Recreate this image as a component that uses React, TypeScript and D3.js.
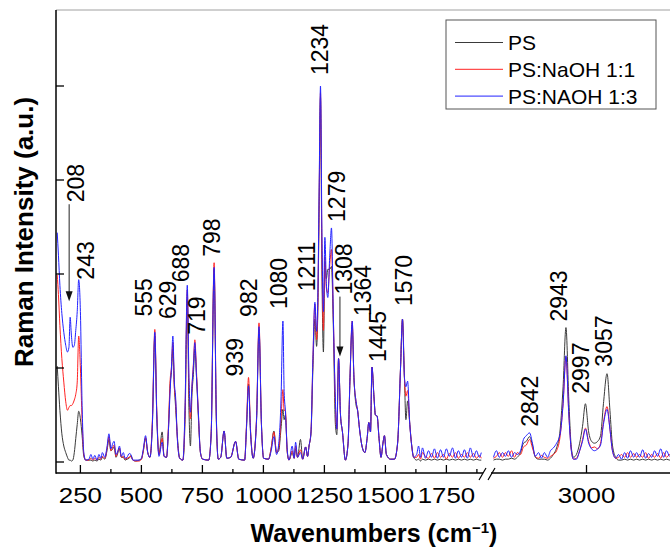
import React from "react";
import * as d3 from "d3";

// ---- Raman spectra, low wavenumber window (cm^-1) ----
const lowWavenumbers = [
  155, 160, 166, 174, 182, 190, 197, 203, 208, 213,
  219, 225, 231, 237, 243, 250, 257, 264, 272, 285,
  293, 301, 309, 318, 326, 334, 340, 350, 359, 367,
  375, 383, 388, 396, 404, 410, 418, 426, 433, 441,
  450, 457, 465, 477, 490, 500, 508, 517, 526, 535,
  545, 555, 563, 572, 585, 593, 603, 611, 618, 623,
  629, 635, 640, 648, 657, 670, 679, 688, 695, 701,
  707, 713, 719, 726, 733, 742, 751, 776, 786, 798,
  807, 815, 825, 839, 850, 866, 886, 899, 923, 931,
  939, 947, 958, 972, 982, 992, 1001, 1021, 1032, 1043,
  1054, 1063, 1072, 1080, 1085, 1090, 1098, 1105, 1118, 1126,
  1132, 1140, 1152, 1161, 1173, 1181, 1187, 1195, 1203, 1211,
  1218, 1223, 1228, 1234, 1240, 1246, 1252, 1258, 1264, 1272,
  1279, 1287, 1295, 1301, 1308, 1316, 1324, 1336, 1347, 1355,
  1364, 1371, 1380, 1386, 1394, 1404, 1416, 1425, 1432, 1439,
  1445, 1453, 1459, 1466, 1474, 1482, 1490, 1496, 1504, 1521,
  1537, 1550, 1562, 1570, 1578, 1584, 1591, 1600, 1608, 1616,
  1628, 1636, 1644, 1652, 1664, 1677, 1689, 1701, 1713, 1726,
  1738, 1750, 1762, 1775, 1787, 1799, 1812, 1824, 1836, 1848,
  1861, 1873, 1885, 1893,
];

const lowPS = [
  1.02, 0.80, 0.55, 0.30, 0.17, 0.10, 0.05, 0.02, 0.02, 0.01,
  0.02, 0.10, 0.25, 0.40, 0.54, 0.46, 0.28, 0.06, 0.02, 0.02,
  0.02, 0.01, 0.02, 0.01, 0.03, 0.02, 0.05, 0.03, 0.12, 0.24,
  0.12, 0.14, 0.16, 0.05, 0.10, 0.14, 0.05, 0.05, 0.02, 0.03,
  0.04, 0.07, 0.02, 0.01, 0.02, 0.03, 0.12, 0.25, 0.10, 0.05,
  0.40, 1.34, 0.50, 0.08, 0.32, 0.06, 0.05, 0.35, 0.83, 0.95,
  1.20, 0.80, 0.59, 0.25, 0.04, 0.02, 0.45, 1.73, 0.55, 0.17,
  0.70, 0.93, 1.20, 0.90, 0.50, 0.10, 0.03, 0.02, 0.30, 2.05,
  0.45, 0.03, 0.05, 0.33, 0.04, 0.05, 0.22, 0.03, 0.02, 0.38,
  0.83, 0.33, 0.04, 0.45, 1.41, 0.40, 0.04, 0.03, 0.15, 0.33,
  0.10, 0.12, 0.35, 0.56, 0.45, 0.50, 0.10, 0.02, 0.10, 0.04,
  0.14, 0.05, 0.24, 0.03, 0.16, 0.06, 0.17, 0.30, 1.00, 1.52,
  1.23, 1.60, 2.60, 3.88, 2.00, 1.17, 2.13, 1.95, 2.05, 2.05,
  2.08, 1.40, 0.40, 0.29, 1.10, 0.50, 0.32, 0.02, 0.20, 0.90,
  1.46, 0.90, 0.60, 0.55, 0.35, 0.17, 0.10, 0.25, 0.42, 0.32,
  1.01, 0.70, 0.50, 0.49, 0.25, 0.05, 0.20, 0.28, 0.08, 0.03,
  0.03, 0.20, 1.00, 1.52, 0.90, 0.45, 0.65, 0.40, 0.17, 0.05,
  0.02, 0.03, 0.01, 0.03, 0.02, 0.03, 0.02, 0.03, 0.02, 0.03,
  0.02, 0.03, 0.02, 0.03, 0.02, 0.03, 0.02, 0.03, 0.02, 0.03,
  0.02, 0.03, 0.02, 0.02,
];

const lowNaOH11 = [
  1.99, 1.78, 1.45, 1.10, 0.85, 0.64, 0.55, 0.58, 0.60, 0.60,
  0.62, 0.66, 0.72, 0.85, 1.34, 1.00, 0.45, 0.08, 0.02, 0.02,
  0.04, 0.02, 0.04, 0.02, 0.05, 0.03, 0.06, 0.04, 0.14, 0.27,
  0.12, 0.16, 0.18, 0.06, 0.12, 0.15, 0.05, 0.06, 0.03, 0.04,
  0.05, 0.06, 0.02, 0.01, 0.01, 0.03, 0.12, 0.26, 0.10, 0.05,
  0.45, 1.41, 0.55, 0.08, 0.25, 0.06, 0.05, 0.40, 0.88, 1.00,
  1.27, 0.80, 0.66, 0.22, 0.04, 0.02, 0.55, 1.83, 0.80, 0.46,
  0.80, 1.04, 1.30, 0.95, 0.55, 0.10, 0.03, 0.02, 0.32, 2.12,
  0.50, 0.03, 0.05, 0.33, 0.04, 0.05, 0.22, 0.03, 0.02, 0.42,
  0.90, 0.36, 0.04, 0.48, 1.48, 0.40, 0.04, 0.03, 0.15, 0.32,
  0.10, 0.15, 0.45, 0.77, 0.55, 0.55, 0.10, 0.02, 0.12, 0.04,
  0.17, 0.05, 0.13, 0.03, 0.16, 0.06, 0.17, 0.32, 1.10, 1.68,
  1.30, 1.65, 2.70, 3.93, 2.20, 1.40, 2.18, 1.85, 1.80, 2.10,
  2.26, 1.50, 0.60, 0.35, 1.10, 0.50, 0.32, 0.02, 0.20, 0.90,
  1.50, 0.90, 0.64, 0.55, 0.35, 0.17, 0.10, 0.25, 0.42, 0.32,
  1.01, 0.70, 0.50, 0.49, 0.25, 0.05, 0.20, 0.28, 0.08, 0.03,
  0.03, 0.20, 1.00, 1.52, 0.90, 0.70, 0.76, 0.40, 0.17, 0.05,
  0.05, 0.08, 0.03, 0.10, 0.06, 0.04, 0.09, 0.04, 0.10, 0.05,
  0.08, 0.03, 0.09, 0.05, 0.10, 0.04, 0.08, 0.05, 0.10, 0.05,
  0.09, 0.04, 0.07, 0.04,
];

const lowNaOH13 = [
  2.44, 2.20, 1.88, 1.58, 1.38, 1.24, 1.17, 1.22, 1.54, 1.35,
  1.22, 1.24, 1.40, 1.60, 1.94, 1.60, 0.60, 0.10, 0.02, 0.03,
  0.08, 0.03, 0.07, 0.02, 0.08, 0.04, 0.10, 0.05, 0.16, 0.30,
  0.14, 0.20, 0.22, 0.08, 0.12, 0.17, 0.06, 0.10, 0.04, 0.05,
  0.09, 0.08, 0.02, 0.02, 0.02, 0.04, 0.14, 0.28, 0.10, 0.05,
  0.40, 1.38, 0.50, 0.06, 0.21, 0.06, 0.05, 0.35, 0.77, 1.00,
  1.34, 0.85, 0.70, 0.22, 0.04, 0.02, 0.60, 1.88, 0.90, 0.53,
  0.80, 1.01, 1.27, 0.90, 0.55, 0.10, 0.03, 0.02, 0.30, 2.07,
  0.50, 0.03, 0.05, 0.33, 0.04, 0.05, 0.22, 0.03, 0.02, 0.38,
  0.81, 0.33, 0.04, 0.45, 1.44, 0.40, 0.04, 0.03, 0.12, 0.27,
  0.08, 0.20, 0.65, 1.50, 0.75, 0.55, 0.12, 0.02, 0.17, 0.04,
  0.21, 0.05, 0.10, 0.03, 0.16, 0.06, 0.17, 0.32, 1.10, 1.70,
  1.39, 1.75, 2.80, 4.00, 2.40, 1.60, 2.39, 1.90, 1.75, 2.20,
  2.49, 1.50, 0.67, 0.35, 1.10, 0.50, 0.32, 0.02, 0.20, 0.90,
  1.50, 0.90, 0.64, 0.55, 0.35, 0.17, 0.10, 0.25, 0.42, 0.32,
  1.01, 0.70, 0.50, 0.49, 0.25, 0.05, 0.20, 0.28, 0.08, 0.03,
  0.03, 0.20, 1.00, 1.52, 0.90, 0.80, 0.86, 0.40, 0.17, 0.05,
  0.08, 0.17, 0.05, 0.15, 0.04, 0.12, 0.05, 0.14, 0.04, 0.13,
  0.05, 0.14, 0.06, 0.15, 0.04, 0.12, 0.05, 0.13, 0.04, 0.15,
  0.05, 0.12, 0.05, 0.10,
];

// ---- C–H stretching window (cm^-1) ----
const highWavenumbers = [
  2742, 2750, 2758, 2767, 2775, 2783, 2792, 2800, 2808, 2817,
  2825, 2833, 2842, 2850, 2858, 2867, 2875, 2883, 2892, 2900,
  2908, 2917, 2927, 2935, 2943, 2951, 2958, 2964, 2972, 2981,
  2989, 2997, 3006, 3014, 3022, 3031, 3039, 3047, 3057, 3065,
  3072, 3081, 3089, 3097, 3106, 3114, 3122, 3131, 3139, 3147,
  3156, 3164, 3172, 3181, 3189, 3197, 3206, 3214, 3222, 3231,
  3240,
];

const highPS = [
  0.02, 0.03, 0.03, 0.02, 0.03, 0.03, 0.04, 0.03, 0.05, 0.10,
  0.20, 0.22, 0.27, 0.18, 0.05, 0.03, 0.03, 0.03, 0.02, 0.04,
  0.08, 0.15, 0.35, 0.80, 1.43, 0.65, 0.15, 0.05, 0.08, 0.20,
  0.38, 0.62, 0.32, 0.22, 0.20, 0.22, 0.28, 0.62, 0.94, 0.55,
  0.18, 0.05, 0.02, 0.02, 0.03, 0.02, 0.03, 0.02, 0.03, 0.02,
  0.03, 0.02, 0.03, 0.02, 0.03, 0.02, 0.03, 0.02, 0.03, 0.02,
  0.03,
];

const highNaOH11 = [
  0.04, 0.06, 0.10, 0.05, 0.10, 0.06, 0.12, 0.05, 0.10, 0.08,
  0.16, 0.18, 0.24, 0.15, 0.06, 0.04, 0.07, 0.05, 0.04, 0.06,
  0.08, 0.12, 0.28, 0.62, 1.12, 0.50, 0.12, 0.03, 0.04, 0.12,
  0.24, 0.36, 0.22, 0.15, 0.16, 0.14, 0.20, 0.42, 0.59, 0.35,
  0.12, 0.04, 0.05, 0.08, 0.05, 0.10, 0.05, 0.09, 0.05, 0.08,
  0.05, 0.10, 0.04, 0.08, 0.05, 0.09, 0.04, 0.10, 0.05, 0.08,
  0.05,
];

const highNaOH13 = [
  0.05, 0.12, 0.05, 0.10, 0.06, 0.12, 0.05, 0.10, 0.08, 0.12,
  0.24, 0.28, 0.31, 0.20, 0.06, 0.10, 0.04, 0.10, 0.05, 0.12,
  0.15, 0.20, 0.30, 0.62, 1.13, 0.50, 0.12, 0.03, 0.03, 0.12,
  0.22, 0.35, 0.20, 0.14, 0.12, 0.14, 0.18, 0.40, 0.56, 0.35,
  0.12, 0.04, 0.08, 0.03, 0.10, 0.04, 0.12, 0.05, 0.10, 0.05,
  0.13, 0.04, 0.09, 0.05, 0.12, 0.06, 0.14, 0.05, 0.12, 0.06,
  0.10,
];

const seriesNames = ["PS", "PS:NaOH 1:1", "PS:NAOH 1:3"];
const seriesColors = ["#3a3a3a", "#ff2222", "#2222ff"];

const lowTickLabels = [250, 500, 750, 1000, 1250, 1500, 1750];
const lowMinorTicks = [375, 625, 875, 1125, 1375, 1625, 1875];
const highTickLabels = [3000];
const yTicks = [0, 1, 2, 3, 4];

// Assigned band positions
const peakLabels = [243, 555, 629, 688, 719, 798, 939, 982, 1080, 1211, 1234, 1279, 1364, 1445, 1570, 2842, 2943, 2997, 3057];
const arrowPeaks = [208, 1308];

// Label placement: [horizontal shift px, gap above band top px]
const labelNudge: Record<number, [number, number]> = {
  243: [7, 0], 555: [-10.5, 13], 629: [-5, 17], 688: [-6.5, 3], 719: [2, 5],
  798: [-2.5, 6], 939: [-14, 1], 982: [-10, 6], 1080: [-4, 12], 1211: [-8, 11],
  1234: [-1, 11], 1279: [5, 6], 1364: [11, 5], 1445: [5.5, 5], 1570: [1, 13],
  2842: [0, 6], 2943: [-7.5, 6], 2997: [-4, 10], 3057: [-3.5, 7],
};
// Arrow placement: [arrow shift px, label shift px, tip gap px, arrow length px]
const arrowNudge: Record<number, [number, number, number, number]> = {
  208: [-1, 6, 16, 97],
  1308: [1.4, 5.5, 2, 60],
};

const W = 670;
const H = 549;
const frame = { left: 56, top: 10, bottom: 473, breakLeft: 483, breakRight: 491, right: 673 };
const FONT = "'Liberation Sans', Arial, Helvetica, sans-serif";

const xLow = d3.scaleLinear().domain([150, 1900]).range([frame.left, frame.breakLeft]);
const xHigh = d3.scaleLinear().domain([2735, 3240]).range([frame.breakRight, frame.right]);
const y = d3.scaleLinear().domain([0, 4]).range([462, 86]);

const xAt = (wn: number) => (wn <= 1900 ? xLow(wn) : xHigh(wn));

const lowSeries = [lowPS, lowNaOH11, lowNaOH13];
const highSeries = [highPS, highNaOH11, highNaOH13];

function bandTop(wn: number): number {
  const inLow = wn <= 1900;
  const grid = inLow ? lowWavenumbers : highWavenumbers;
  const sets = inLow ? lowSeries : highSeries;
  const i = grid.indexOf(wn);
  return d3.max(sets, (s) => s[i]) ?? 0;
}

function linePath(grid: number[], vals: number[], xs: d3.ScaleLinear<number, number>) {
  const gen = d3
    .line<number>()
    .x((_, i) => xs(grid[i]))
    .y((v) => y(v))
    .curve(d3.curveMonotoneX);
  return gen(vals) ?? "";
}

export default function App() {
  return (
    <svg
      width={W}
      height={H}
      viewBox={`0 0 ${W} ${H}`}
      style={{ position: "absolute", left: 0, top: 0, background: "#fff" }}
      fontFamily={FONT}
    >
      <rect x={0} y={0} width={W} height={H} fill="#fff" />
      <defs>
        <clipPath id="clipLow">
          <rect x={frame.left} y={frame.top} width={frame.breakLeft - frame.left} height={frame.bottom - frame.top} />
        </clipPath>
        <clipPath id="clipHigh">
          <rect x={frame.breakRight} y={frame.top} width={frame.right - frame.breakRight} height={frame.bottom - frame.top} />
        </clipPath>
      </defs>

      {/* spectra */}
      <g clipPath="url(#clipLow)" fill="none" strokeWidth={1} strokeLinejoin="round">
        {lowSeries.map((s, k) => (
          <path key={k} d={linePath(lowWavenumbers, s, xLow)} stroke={seriesColors[k]} />
        ))}
      </g>
      <g clipPath="url(#clipHigh)" fill="none" strokeWidth={1} strokeLinejoin="round">
        {highSeries.map((s, k) => (
          <path key={k} d={linePath(highWavenumbers, s, xHigh)} stroke={seriesColors[k]} />
        ))}
      </g>

      {/* frame */}
      <line x1={frame.left} x2={W} y1={frame.top} y2={frame.top} stroke="#a0a0a0" strokeWidth={1} />
      <line x1={frame.left} x2={frame.left} y1={frame.top} y2={frame.bottom + 0.75} stroke="#000" strokeWidth={1.5} />
      <line x1={frame.left} x2={frame.breakLeft} y1={frame.bottom} y2={frame.bottom} stroke="#000" strokeWidth={1.5} />
      <line x1={frame.breakRight} x2={W} y1={frame.bottom} y2={frame.bottom} stroke="#000" strokeWidth={1.5} />
      {/* axis break marks */}
      <line x1={frame.breakLeft - 4} y1={frame.bottom + 7} x2={frame.breakLeft + 3} y2={frame.bottom - 5} stroke="#000" strokeWidth={1.2} />
      <line x1={frame.breakRight - 3} y1={frame.bottom + 7} x2={frame.breakRight + 4} y2={frame.bottom - 5} stroke="#000" strokeWidth={1.2} />

      {/* y ticks */}
      {yTicks.map((t) => (
        <line key={t} x1={frame.left} x2={frame.left + 8} y1={y(t)} y2={y(t)} stroke="#000" strokeWidth={1.3} />
      ))}

      {/* x ticks */}
      {lowTickLabels.map((t) => (
        <line key={`M${t}`} x1={xLow(t)} x2={xLow(t)} y1={frame.bottom} y2={frame.bottom - 8} stroke="#000" strokeWidth={1.3} />
      ))}
      {lowMinorTicks.map((t) => (
        <line key={`m${t}`} x1={xLow(t)} x2={xLow(t)} y1={frame.bottom} y2={frame.bottom - 4} stroke="#000" strokeWidth={1.3} />
      ))}
      {highTickLabels.map((t) => (
        <line key={`H${t}`} x1={xHigh(t)} x2={xHigh(t)} y1={frame.bottom} y2={frame.bottom - 8} stroke="#000" strokeWidth={1.3} />
      ))}

      {/* x tick labels */}
      {[...lowTickLabels.map((t) => [t, xLow(t)]), ...highTickLabels.map((t) => [t, xHigh(t)])].map(([t, x]) => (
        <text
          key={`l${t}`}
          transform={`translate(${x},503) scale(1.15,1)`}
          textAnchor="middle"
          fontSize={22.5}
          fill="#000"
        >
          {t}
        </text>
      ))}

      {/* axis titles */}
      <text x={374} y={542} textAnchor="middle" fontSize={25} fontWeight="bold" fill="#000">
        Wavenumbers (cm
        <tspan fontSize={15} dy={-9}>−1</tspan>
        <tspan dy={9}>)</tspan>
      </text>
      <text transform="translate(33,232) rotate(-90)" textAnchor="middle" fontSize={26} fontWeight="bold" fill="#000">
        Raman Intensity (a.u.)
      </text>

      {/* band labels */}
      {peakLabels.map((wn) => {
        const [dx, gap] = labelNudge[wn];
        const bottom = y(bandTop(wn)) - gap;
        const cx = xAt(wn) + dx;
        return (
          <text
            key={`p${wn}`}
            transform={`translate(${cx},${bottom}) rotate(-90)`}
            dy="0.35em"
            fontSize={23}
            fill="#000"
          >
            {wn}
          </text>
        );
      })}

      {/* arrowed band labels */}
      {arrowPeaks.map((wn) => {
        const [adx, ldx, gap, len] = arrowNudge[wn];
        const ax = xAt(wn) + adx;
        const tip = y(bandTop(wn)) - gap;
        const start = tip - len;
        return (
          <g key={`a${wn}`}>
            <line x1={ax} x2={ax} y1={start} y2={tip - 8} stroke="#222" strokeWidth={1} />
            <path d={`M${ax - 3.5},${tip - 10} L${ax + 3.5},${tip - 10} L${ax},${tip} Z`} fill="#111" />
            <text
              transform={`translate(${xAt(wn) + ldx},${start - 2}) rotate(-90)`}
              dy="0.35em"
              fontSize={23}
              fill="#000"
            >
              {wn}
            </text>
          </g>
        );
      })}

      {/* legend */}
      <g>
        <rect x={446} y={20} width={210} height={89} fill="#fff" stroke="#555" strokeWidth={1} />
        {seriesNames.map((name, k) => {
          const ry = 42.5 + k * 26.8;
          return (
            <g key={name}>
              <line x1={455} x2={503} y1={ry} y2={ry} stroke={seriesColors[k]} strokeWidth={1} />
              <text x={508} y={ry + 7.5} fontSize={21} fill="#000">
                {name}
              </text>
            </g>
          );
        })}
      </g>
    </svg>
  );
}
